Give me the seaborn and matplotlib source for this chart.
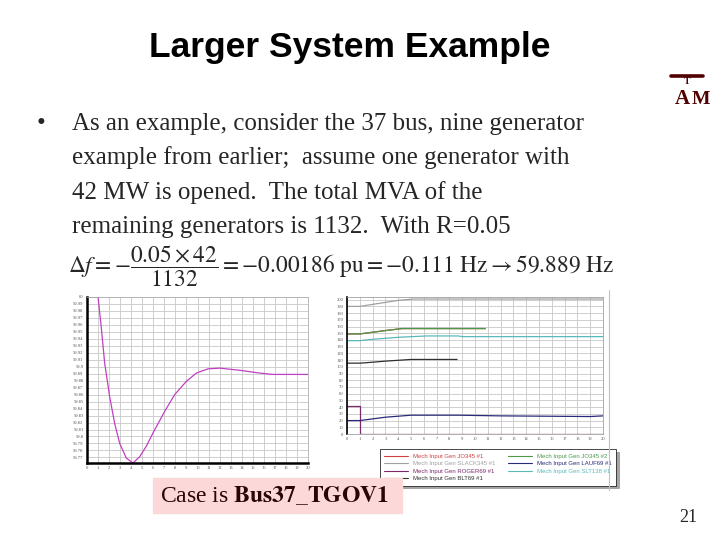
import numpy as np
import pandas as pd
import matplotlib
matplotlib.use('Agg')
import matplotlib.pyplot as plt
import seaborn as sns
from matplotlib.lines import Line2D
from matplotlib.patches import Rectangle

# frequency response after the 42 MW generator trips (Hz)
freq_t = [0, 1.0, 1.3, 1.6, 2.05, 2.5, 2.96, 3.56, 4.16, 4.77, 5.4, 5.97, 7.03, 7.93, 8.99, 9.9, 10.95, 12.0, 13.8, 15.6, 16.8, 20]
freq_hz = [60, 60, 59.955, 59.905, 59.857, 59.819, 59.790, 59.769, 59.762, 59.771, 59.787, 59.805, 59.836, 59.860, 59.879, 59.891, 59.897, 59.898, 59.895, 59.891, 59.889, 59.889]

# mechanical input of each generator (MW)
gen_names = ['Mech Input Gen JO345 #1', 'Mech Input Gen SLACK345 #1', 'Mech Input Gen ROGER69 #1',
             'Mech Input Gen BLT69 #1', 'Mech Input Gen JO345 #2', 'Mech Input Gen LAUF69 #1',
             'Mech Input Gen SLT138 #1']
gen_colors = ['#d04040', '#a0a0a0', '#7a2a6a', '#303030', '#4a9a4a', '#2a2a7a', '#5ab8b8']
jo1_t = [0, 1, 2, 3, 4.3, 10.8]
jo1_mw = [149, 149, 151.5, 154, 157, 157]
slack_t = [0, 1, 2, 3, 4, 5.2, 20]
slack_mw = [190, 190, 193, 196, 199, 201, 201]
roger_t = [0, 1, 1, 20]
roger_mw = [42, 42, 0, 0]
blt69_t = [0, 1, 1.4, 3, 5, 8.6]
blt69_mw = [105.5, 105.5, 106, 108.5, 111, 111]
jo2_t = [0, 1, 2, 3, 4.3, 10.8]
jo2_mw = [149, 149, 151.5, 154, 157, 157]
lauf_t = [0, 1, 2, 3, 5, 8.7, 12, 19, 20]
lauf_mw = [20, 20, 22.5, 25, 28, 28, 27, 26, 27]
slt_t = [0, 1, 2, 4, 6.2, 8.7, 9, 20]
slt_mw = [139, 139, 141, 144, 146, 146, 145, 145]

series = [(jo1_t, jo1_mw), (slack_t, slack_mw), (roger_t, roger_mw), (blt69_t, blt69_mw),
          (jo2_t, jo2_mw), (lauf_t, lauf_mw), (slt_t, slt_mw)]
rows = []
for name, (t, v) in zip(gen_names, series):
    for a, b in zip(t, v):
        rows.append({'t': a, 'mw': b, 'gen': name})
mech = pd.DataFrame(rows)
palette = dict(zip(gen_names, gen_colors))

sns.set_style('white')
plt.rcParams['font.family'] = ['Liberation Serif', 'DejaVu Sans']
plt.rcParams['mathtext.fontset'] = 'stix'

W, H = 720, 540
fig = plt.figure(figsize=(7.2, 5.4), dpi=100)
fig.patch.set_facecolor('white')

def px(x, y):
    return x / W, 1 - y / H

# slide text
fig.text(*px(350, 47), 'Larger System Example', family='Liberation Sans', weight='bold',
         fontsize=25.5, ha='center', va='center', color='black')
fig.text(*px(37, 130), '\u2022', fontsize=18, ha='left', va='baseline')
lines = ['As an example, consider the 37 bus, nine generator',
         'example from earlier;  assume one generator with',
         '42 MW is opened.  The total MVA of the',
         'remaining generators is 1132.  With R=0.05']
for i, s in enumerate(lines):
    fig.text(*px(72, 130 + i * 34.3), s, fontsize=18, ha='left', va='baseline')
fig.text(*px(68, 266), r'$\Delta f = -\dfrac{0.05\times 42}{1132} = -0.00186\ \mathrm{pu} = -0.111\ \mathrm{Hz} \rightarrow 59.889\ \mathrm{Hz}$',
         fontsize=16.8, ha='left', va='center')

# A&M logo
mar = '#500000'
fig.add_artist(Line2D([671 / W, 703 / W], [1 - 76 / H, 1 - 76 / H], color=mar, lw=2.6))
fig.text(*px(687, 81), 'T', fontsize=7, weight='bold', color=mar, ha='center', va='center')
fig.text(*px(682, 99), 'A', fontsize=15, weight='bold', color=mar, ha='center', va='center')
fig.text(*px(701, 99), 'M', fontsize=14, weight='bold', color=mar, ha='center', va='center')

# left chart: frequency
ax1 = fig.add_axes([87 / W, 1 - 463 / H, 221 / W, 166 / H])
sns.lineplot(x=freq_t, y=freq_hz, ax=ax1, color='#c040c0', linewidth=0.9, estimator=None, sort=False)
ax1.set_xlim(0, 20)
ax1.set_ylim(59.762, 60.0)
ax1.set_xticks(range(0, 21))
yt = np.round(np.arange(59.77, 60.001, 0.01), 2)
ax1.set_yticks(yt)
ax1.set_yticklabels(['%g' % v for v in yt])
ax1.grid(True, color='#c8c8c8', linewidth=0.6)
ax1.tick_params(labelsize=3.3, colors='#555555', length=1.5, pad=1)
for s in ['top', 'right']:
    ax1.spines[s].set_color('#b0b0b0')
    ax1.spines[s].set_linewidth(0.6)
for s in ['left', 'bottom']:
    ax1.spines[s].set_color('black')
    ax1.spines[s].set_linewidth(1.8)
ax1.set_xlabel('')
ax1.set_ylabel('')

# right chart: mechanical inputs
ax2 = fig.add_axes([347 / W, 1 - 434 / H, 256 / W, 137 / H])
sns.lineplot(data=mech, x='t', y='mw', hue='gen', palette=palette, estimator=None, sort=False,
             ax=ax2, legend=False, linewidth=0.9)
ax2.set_xlim(0, 20)
ax2.set_ylim(0, 204)
ax2.set_xticks(range(0, 21))
ax2.set_yticks(range(0, 201, 10))
ax2.grid(True, color='#c8c8c8', linewidth=0.6)
ax2.tick_params(labelsize=3.3, colors='#555555', length=1.5, pad=1)
for s in ['top', 'right', 'bottom']:
    ax2.spines[s].set_color('#a0a0a0')
    ax2.spines[s].set_linewidth(0.6)
ax2.spines['left'].set_color('black')
ax2.spines['left'].set_linewidth(1.2)
ax2.set_xlabel('')
ax2.set_ylabel('')

handles = [Line2D([], [], color=c, lw=0.8) for c in gen_colors]
leg = ax2.legend(handles, gen_names, ncol=2, labelcolor='linecolor',
                 loc='upper left', bbox_to_anchor=((377 - 347) / 256, -0.09),
                 frameon=True, fancybox=False, shadow=True, handlelength=4,
                 columnspacing=2.2, labelspacing=0.4, borderpad=0.7,
                 prop={'family': 'Liberation Sans', 'size': 4.3})
leg.get_frame().set_edgecolor('black')
leg.get_frame().set_linewidth(0.5)

# screenshot border line
fig.add_artist(Line2D([609 / W, 609 / W], [1 - 290 / H, 1 - 490 / H], color='#c0c0c0', lw=0.8))

# case box, drawn above the legend corner
fig.add_artist(Rectangle((153 / W, 1 - 513 / H), 249 / W, 35 / H, color='#fdd8d8', zorder=5,
                         transform=fig.transFigure))
fig.text(*px(160, 496), r'Case is $\mathbf{Bus37\_TGOV1}$', fontsize=17, color='#2a0505',
         ha='left', va='center', zorder=6)

fig.text(*px(688, 517), '21', fontsize=13, ha='center', va='center')

fig.savefig('out.png', dpi=100)
